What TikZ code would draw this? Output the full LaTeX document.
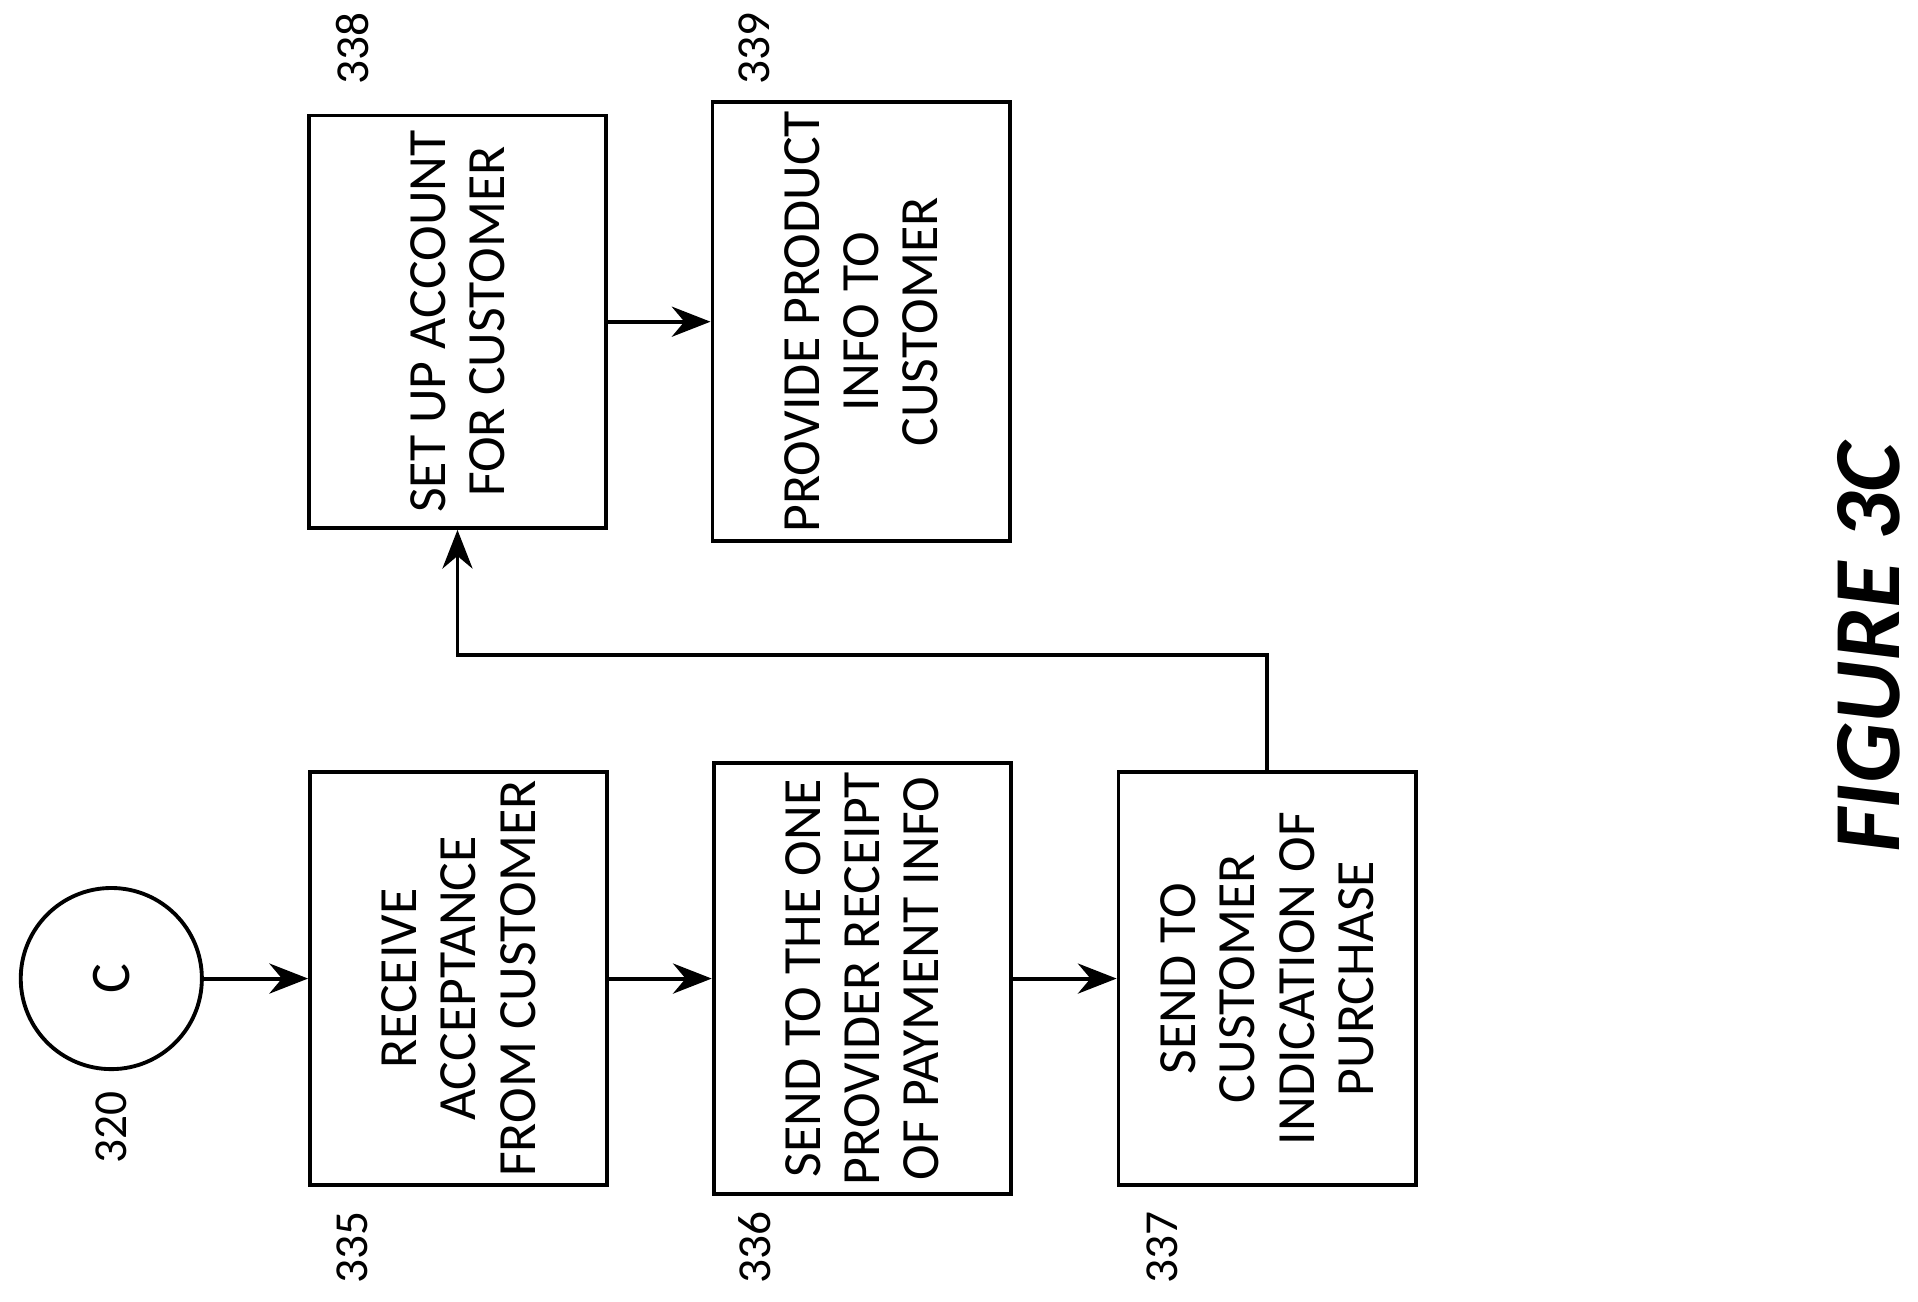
\documentclass[tikz,border=0pt]{standalone}
\usepackage{fontspec}
\setmainfont{Carlito}
\usetikzlibrary{arrows.meta}

\begin{document}
\begin{tikzpicture}[x=0.01cm,y=-0.01cm,>={Stealth[length=9pt,width=7pt]},
    stepbox/.style={draw,line width=0.9pt,rotate=90,minimum width=3.37cm,minimum height=2.43cm,
      align=center,inner sep=2pt,font=\fontsize{12.5}{13.8}\selectfont},
    ref/.style={rotate=90,font=\fontsize{11}{12}\selectfont}]
    \useasboundingbox (0,0) rectangle (1568,1064);
    \node[draw,line width=0.9pt,circle,minimum size=1.48cm,font=\fontsize{13}{14}\selectfont,rotate=90] (c) at (91,800) {C};
    \node[stepbox] (r335) at (375,800) {RECEIVE\\ACCEPTANCE\\FROM CUSTOMER};
    \node[stepbox] (r336) at (705,800) {SEND TO THE ONE\\PROVIDER RECEIPT\\OF PAYMENT INFO};
    \node[stepbox] (r337) at (1036,800) {SEND TO\\CUSTOMER\\INDICATION OF\\PURCHASE};
    \node[stepbox] (r338) at (374,263) {SET UP ACCOUNT\\FOR CUSTOMER};
    \node[stepbox] (r339) at (704,263) {PROVIDE PRODUCT\\INFO TO\\CUSTOMER};
    \node[ref] (n320) at (91,922) {320};
    \node[ref] (n335) at (288,1020) {335};
    \node[ref] (n336) at (617,1020) {336};
    \node[ref] (n337) at (950,1020) {337};
    \node[ref] (n338) at (288,40) {338};
    \node[ref] (n339) at (617,40) {339};
    \node[rotate=90,font=\fontsize{22}{24}\selectfont\bfseries\itshape] (fig) at (1528,530) {FIGURE 3C};
    \draw[->,line width=0.9pt] (c) -- (r335);
    \draw[->,line width=0.9pt] (r335) -- (r336);
    \draw[->,line width=0.9pt] (r336) -- (r337);
    \draw[->,line width=0.9pt] (r337.east) -- ++(0,-94) -| (r338.west);
    \draw[->,line width=0.9pt] (r338) -- (r339);
\end{tikzpicture}
\end{document}
